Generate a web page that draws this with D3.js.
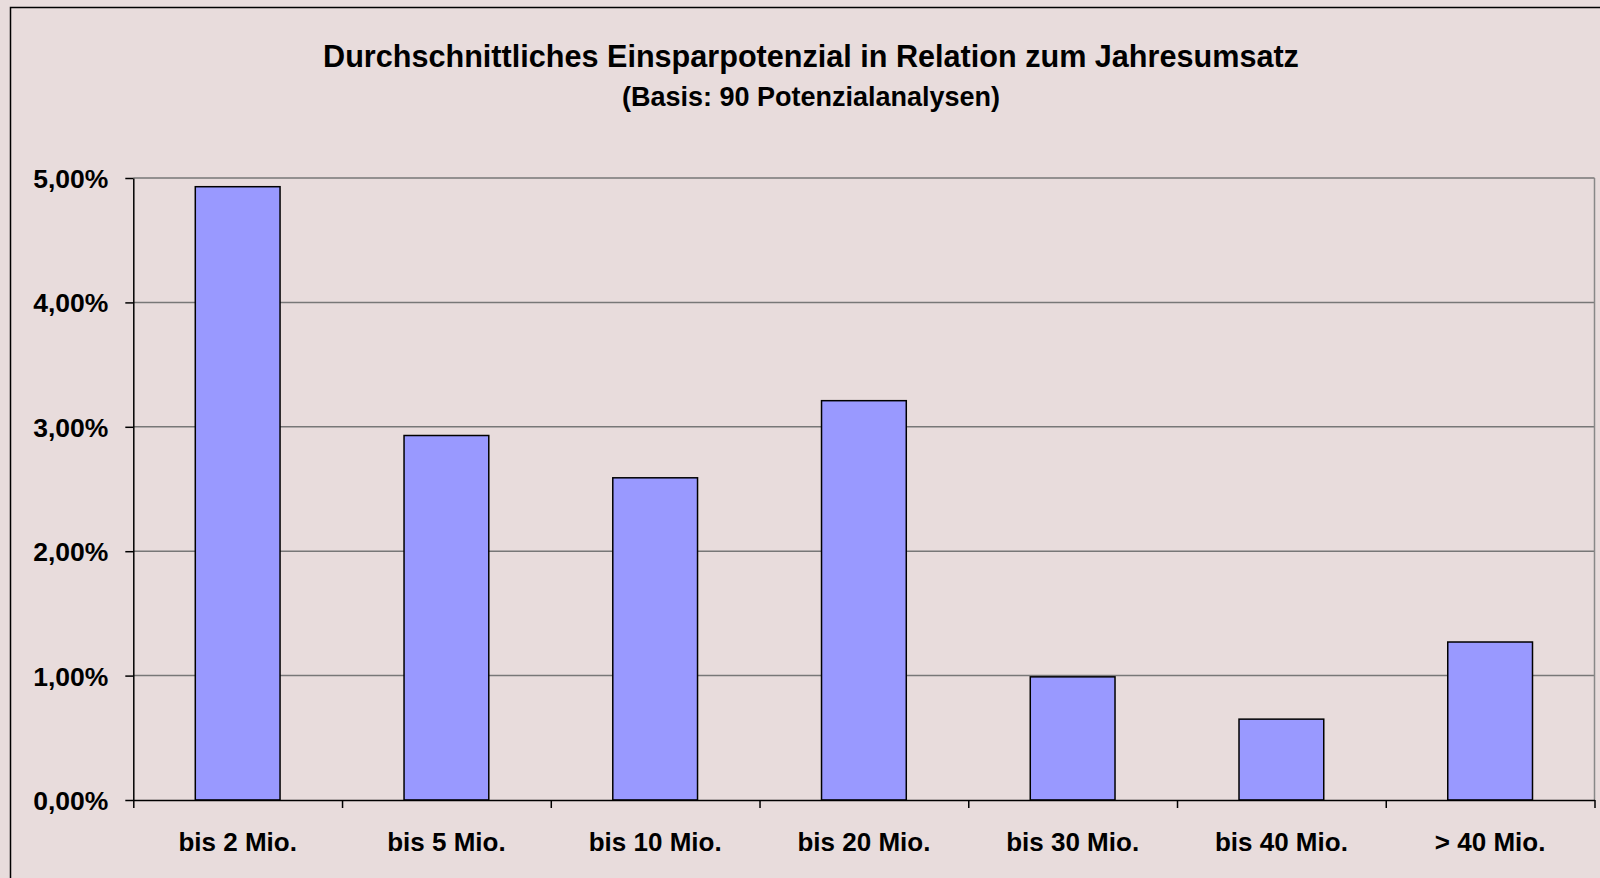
<!DOCTYPE html>
<html>
<head>
<meta charset="utf-8">
<script src="https://cdn.jsdelivr.net/npm/d3@7"></script>
<style>
  body { margin: 0; background: #e8dcdc; }
  svg { display: block; }
  text { font-family: "Liberation Sans", Arial, sans-serif; font-weight: bold; fill: #000; }
</style>
</head>
<body>
<div id="chart"></div>
<script>
// chart data
const categories = ["bis 2 Mio.", "bis 5 Mio.", "bis 10 Mio.", "bis 20 Mio.", "bis 30 Mio.", "bis 40 Mio.", "> 40 Mio."];
const savings = [0.0493, 0.0293, 0.0259, 0.0321, 0.0099, 0.0065, 0.0127];
const yTicks = [0, 0.01, 0.02, 0.03, 0.04, 0.05];

const title = "Durchschnittliches Einsparpotenzial in Relation zum Jahresumsatz";
const subtitle = "(Basis: 90 Potenzialanalysen)";

// german number format: 5,00%
const de = d3.formatLocale({ decimal: ",", thousands: ".", grouping: [3], currency: ["", " €"] });
const pct = de.format(".2%");

const width = 1600, height = 878;
const plot = { left: 133.3, right: 1594.5, top: 178, bottom: 800 };

const svg = d3.select("#chart").append("svg")
  .attr("width", width)
  .attr("height", height);

// background + outer frame (only left/top visible, rest is cropped)
svg.append("rect")
  .attr("width", width).attr("height", height)
  .attr("fill", "#e8dcdc");
svg.append("rect")
  .attr("x", 10.5).attr("y", 7.5)
  .attr("width", 1700).attr("height", 1000)
  .attr("fill", "none")
  .attr("stroke", "#000")
  .attr("stroke-width", 1.5);

// titles
svg.append("text")
  .attr("x", 811).attr("y", 66.5)
  .attr("text-anchor", "middle")
  .style("font-size", "30.6px")
  .text(title);
svg.append("text")
  .attr("x", 811).attr("y", 106)
  .attr("text-anchor", "middle")
  .style("font-size", "27px")
  .text(subtitle);

// scales
const y = d3.scaleLinear()
  .domain([0, 0.05])
  .range([plot.bottom, plot.top]);

const x = d3.scaleBand()
  .domain(categories)
  .range([plot.left, plot.right])
  .paddingInner(0.594)
  .paddingOuter(0.297);

// category boundaries for the x ticks
const xb = d3.scaleLinear()
  .domain([0, categories.length])
  .range([plot.left, plot.right]);

// gridlines
svg.append("g")
  .selectAll("line")
  .data(yTicks.filter(function(d) { return d > 0; }))
  .enter().append("line")
  .attr("x1", plot.left).attr("x2", plot.right)
  .attr("y1", function(d) { return y(d); })
  .attr("y2", function(d) { return y(d); })
  .attr("stroke", "#777")
  .attr("stroke-width", 1.5);

// right edge of plot area
svg.append("line")
  .attr("x1", plot.right).attr("x2", plot.right)
  .attr("y1", plot.top).attr("y2", plot.bottom)
  .attr("stroke", "#888")
  .attr("stroke-width", 1.5);

// bars
svg.selectAll(".bar")
  .data(savings)
  .enter().append("rect")
  .attr("class", "bar")
  .attr("x", function(d, i) { return x(categories[i]); })
  .attr("width", x.bandwidth())
  .attr("y", function(d) { return y(d); })
  .attr("height", function(d) { return plot.bottom - y(d); })
  .attr("fill", "#9999ff")
  .attr("stroke", "#000")
  .attr("stroke-width", 1.5);

// y axis
const yAxis = svg.append("g")
  .attr("transform", "translate(" + plot.left + ",0)")
  .call(d3.axisLeft(y).tickValues(yTicks).tickFormat(pct).tickSize(8).tickSizeOuter(0).tickPadding(17));
yAxis.selectAll("path, line").attr("stroke", "#000").attr("stroke-width", 1.5);
yAxis.selectAll("text")
  .style("font-size", "26.5px")
  .attr("dy", "0.36em");

// x axis: ticks on category boundaries
const xTicks = svg.append("g")
  .attr("transform", "translate(0," + plot.bottom + ")")
  .call(d3.axisBottom(xb).ticks(categories.length).tickFormat("").tickSize(8).tickSizeOuter(0));
xTicks.selectAll("path, line").attr("stroke", "#000").attr("stroke-width", 1.5);

// x axis labels
const xAxis = svg.append("g")
  .attr("transform", "translate(0," + plot.bottom + ")")
  .call(d3.axisBottom(x).tickSize(0));
xAxis.select(".domain").remove();
xAxis.selectAll("text")
  .style("font-size", "26px")
  .attr("y", 51)
  .attr("dy", "0");
</script>
</body>
</html>
